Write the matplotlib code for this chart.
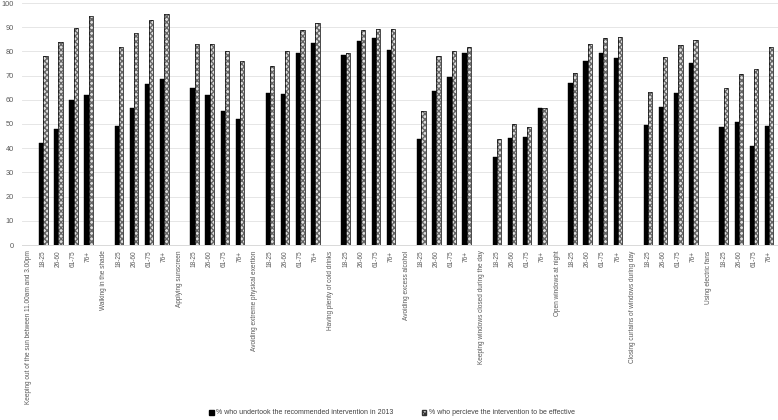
import matplotlib
matplotlib.use("Agg")
import matplotlib.pyplot as plt
from matplotlib.patches import Patch
import numpy as np

plt.rcParams["font.family"] = ["Liberation Sans", "DejaVu Sans"]

categories = [
    "Keeping out of the sun between 11.00am and 3.00pm",
    "Walking in the shade",
    "Applying sunscreen",
    "Avoiding extreme physical exertion",
    "Having plenty of cold drinks",
    "Avoiding excess alcohol",
    "Keeping windows closed during the day",
    "Open windows at night",
    "Closing curtains of windows during day",
    "Using electric fans",
]
age_groups = ["18-25", "26-60", "61-75", "76+"]

undertook = [
    [42, 48, 60, 62],
    [49, 56.5, 66.5, 68.5],
    [65, 62, 55.5, 52],
    [63, 62.2, 79.2, 83.4],
    [78.4, 84.5, 85.7, 80.5],
    [43.9, 63.7, 69.6, 79.4],
    [36.5, 44.2, 44.7, 56.5],
    [67, 76, 79.4, 77.3],
    [49.4, 56.9, 62.7, 75.2],
    [48.8, 50.9, 41, 49.2],
]
effective = [
    [78, 84, 89.5, 94.5],
    [82, 87.5, 93, 95.5],
    [83, 83, 80, 76],
    [74, 80, 88.9, 91.9],
    [79.4, 88.7, 89.4, 89.3],
    [55.4, 77.9, 80, 81.7],
    [43.9, 49.9, 48.7, 56.5],
    [71.1, 83, 85.6, 86.1],
    [63.3, 77.7, 82.5, 84.9],
    [64.8, 70.7, 72.6, 81.7],
]

legend_labels = ["% who undertook the recommended intervention in 2013",
                 "% who percieve the intervention to be effective"]

fig = plt.figure(figsize=(7.78, 4.2), dpi=100)
ax = fig.add_axes([22/778, (420-245)/420, 1 - 22/778, (245-3)/420])

tick_pos, tick_lab = [], []
bx, b1, b2 = [], [], []
pos = 0
for ci, cat in enumerate(categories):
    tick_pos.append(pos); tick_lab.append(cat)
    pos += 1
    for ai, ag in enumerate(age_groups):
        tick_pos.append(pos); tick_lab.append(ag)
        bx.append(pos); b1.append(undertook[ci][ai]); b2.append(effective[ci][ai])
        pos += 1

bx = np.array(bx, dtype=float)
w = 0.28
ax.bar(bx - 0.13, b1, width=w, color="black", edgecolor="black", linewidth=0.3, zorder=3)
ax.bar(bx - 0.13 + w, b2, width=w, color="#e0e0e0", edgecolor="#666666", hatch="xxxxxx",
       linewidth=0, zorder=3)
ax.bar(bx - 0.13 + w, b2, width=w, fill=False, edgecolor="black", linewidth=0.5, zorder=4)

ax.set_xlim(-0.4, 49.6)
ax.set_ylim(0, 100)
ax.set_yticks(range(0, 101, 10))
ax.set_xticks(tick_pos)
ax.set_xticklabels(tick_lab, rotation=90, fontsize=4.7, color="#595959")
ax.tick_params(axis="y", labelsize=5.3, labelcolor="#595959", length=0, pad=6)
ax.tick_params(axis="x", length=0, pad=4)
ax.grid(axis="y", color="#e6e6e6", linewidth=0.7, zorder=0)
for s in ["top", "right", "left"]:
    ax.spines[s].set_visible(False)
ax.spines["bottom"].set_color("#d9d9d9")
ax.spines["bottom"].set_linewidth(0.7)

handles = [Patch(facecolor="black", edgecolor="black"),
           Patch(facecolor="#e0e0e0", edgecolor="#333333", hatch="xxxxxx")]
leg = fig.legend(handles, legend_labels, loc="center", ncol=2, frameon=False,
                 fontsize=5.0, bbox_to_anchor=(392/778, 1 - 413/420), handlelength=0.7,
                 handleheight=0.7, columnspacing=4.0, handletextpad=0.4)
for t in leg.get_texts():
    t.set_color("#404040")

fig.savefig("out.png", dpi=100)
